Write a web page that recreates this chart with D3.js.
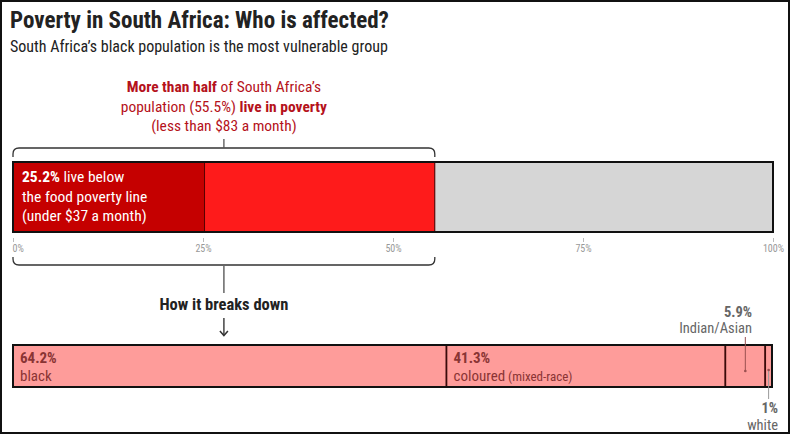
<!DOCTYPE html>
<html><head><meta charset="utf-8">
<script src="https://cdn.jsdelivr.net/npm/d3@7"></script>
<style>
html,body{margin:0;padding:0;background:#fff;}
svg{display:block;}
text{font-family:"Liberation Sans Narrow","Roboto Condensed","DejaVu Sans Condensed",sans-serif;}
</style></head>
<body>
<svg id="chart" width="792" height="435"></svg>
<script>
// ---- data ----
const title = "Poverty in South Africa: Who is affected?";
const subtitle = "South Africa\u2019s black population is the most vulnerable group";
const topCategories = ["Food poverty", "Poverty", "Not in poverty"];
const topValues = [25.2, 30.3, 44.5];
const tickValues = [0, 25, 50, 75, 100];
const tickLabels = ["0%", "25%", "50%", "75%", "100%"];
const groups = ["black", "coloured", "Indian/Asian", "white"];
const groupValues = [64.2, 41.3, 5.9, 1.0];
const groupLabels = ["64.2%", "41.3%", "5.9%", "1%"];

const svg = d3.select("#chart");

// frame
svg.append("rect").attr("x", 1).attr("y", 1).attr("width", 788).attr("height", 432)
  .attr("fill", "#fff").attr("stroke", "#111").attr("stroke-width", 2);

svg.append("text").attr("x", 10).attr("y", 28).text(title)
  .attr("font-size", 23).attr("font-weight", "bold").attr("fill", "#222");
svg.append("text").attr("x", 10).attr("y", 52).text(subtitle)
  .attr("font-size", 16).attr("fill", "#222");

// scales
const x = d3.scaleLinear().domain([0, 100]).range([13, 773]);
const barTop = 162, barH = 70;

// stacked top bar
let acc = 0;
const topStack = topValues.map((v, i) => { const s = {cat: topCategories[i], x0: acc, x1: acc + v}; acc += v; return s; });
const topColors = ["#c50000", "#fe1b1b", "#d6d6d6"];
svg.append("g").selectAll("rect").data(topStack).join("rect")
  .attr("x", d => x(d.x0)).attr("y", barTop)
  .attr("width", d => x(d.x1) - x(d.x0)).attr("height", barH)
  .attr("fill", (d, i) => topColors[i])
  .attr("stroke", "#5a0000").attr("stroke-width", 1);
svg.append("rect").attr("x", x(0)).attr("y", barTop).attr("width", x(100) - x(0)).attr("height", barH)
  .attr("fill", "none").attr("stroke", "#111").attr("stroke-width", 2);

// text inside
const inner = svg.append("text").attr("x", 22).attr("y", 182).attr("fill", "#fff").attr("font-size", 15.5);
const l1 = inner.append("tspan").attr("x", 22);
l1.append("tspan").attr("font-weight", "bold").text(topValues[0] + "%");
l1.append("tspan").text(" live below");
inner.append("tspan").attr("x", 22).attr("dy", 19.5).text("the food poverty line");
inner.append("tspan").attr("x", 22).attr("dy", 19.5).text("(under $37 a month)");

// axis
const axis = d3.axisBottom(x).tickValues(tickValues).tickFormat((d, i) => tickLabels[i]).tickSize(4).tickPadding(3);
const ag = svg.append("g").attr("transform", `translate(0,${barTop + barH + 6})`).call(axis);
ag.select(".domain").remove();
ag.selectAll(".tick line").attr("stroke", "#bbb");
ag.selectAll(".tick text").attr("fill", "#999").attr("font-size", 10)
  .attr("font-family", "Roboto, sans-serif")
  .attr("text-anchor", (d, i) => i === 0 ? "start" : "middle")
  .attr("dx", (d, i) => i === 0 ? -1 : 0);

// brackets
const p0 = x(0), p1 = x(topValues[0] + topValues[1]), mid = (p0 + p1) / 2;
const r = 6;
svg.append("path").attr("d",
  `M${p0},157 L${p0},${148 + r} Q${p0},148 ${p0 + r},148 L${p1 - r},148 Q${p1},148 ${p1},${148 + r} L${p1},157`)
  .attr("fill", "none").attr("stroke", "#333").attr("stroke-width", 1.3);
svg.append("line").attr("x1", mid).attr("x2", mid).attr("y1", 139).attr("y2", 148)
  .attr("stroke", "#555").attr("stroke-width", 1.3);

const by = 265;
svg.append("path").attr("d",
  `M${p0},257 L${p0},${by - r} Q${p0},${by} ${p0 + r},${by} L${p1 - r},${by} Q${p1},${by} ${p1},${by - r} L${p1},257`)
  .attr("fill", "none").attr("stroke", "#333").attr("stroke-width", 1.3);
svg.append("line").attr("x1", mid).attr("x2", mid).attr("y1", by).attr("y2", 293)
  .attr("stroke", "#666").attr("stroke-width", 1.5);

// annotation top
const ann = svg.append("text").attr("text-anchor", "middle").attr("fill", "#b5121b").attr("font-size", 15.5);
const a1 = ann.append("tspan").attr("x", mid).attr("y", 92);
a1.append("tspan").attr("font-weight", "bold").text("More than half");
a1.append("tspan").text(" of South Africa\u2019s");
const a2 = ann.append("tspan").attr("x", mid).attr("y", 112);
a2.append("tspan").text("population (55.5%) ");
a2.append("tspan").attr("font-weight", "bold").text("live in poverty");
ann.append("tspan").attr("x", mid).attr("y", 131).text("(less than $83 a month)");

svg.append("text").attr("x", mid).attr("y", 310).attr("text-anchor", "middle")
  .attr("font-size", 16.5).attr("font-weight", "bold").attr("fill", "#222").text("How it breaks down");

// arrow
svg.append("line").attr("x1", mid).attr("x2", mid).attr("y1", 318).attr("y2", 335)
  .attr("stroke", "#444").attr("stroke-width", 1.5);
svg.append("path").attr("d", `M${mid - 4},331 L${mid},335.5 L${mid + 4},331`)
  .attr("fill", "none").attr("stroke", "#333").attr("stroke-width", 1.5);

// breakdown bar
const total = d3.sum(groupValues);
const xb = d3.scaleLinear().domain([0, total]).range([13, 772]);
let acc2 = 0;
const gStack = groupValues.map((v, i) => { const s = {g: groups[i], v, lab: groupLabels[i], x0: acc2, x1: acc2 + v}; acc2 += v; return s; });
const bTop = 345, bH = 42;
svg.append("g").selectAll("rect").data(gStack).join("rect")
  .attr("x", d => xb(d.x0)).attr("y", bTop)
  .attr("width", d => xb(d.x1) - xb(d.x0)).attr("height", bH)
  .attr("fill", "#fe9c9a").attr("stroke", "#3a0a0a").attr("stroke-width", 1.6);
svg.append("rect").attr("x", xb(0)).attr("y", bTop).attr("width", xb(total) - xb(0)).attr("height", bH)
  .attr("fill", "none").attr("stroke", "#111").attr("stroke-width", 2);

const labCol = "#8a3434";
[0, 1].forEach(i => {
  const d = gStack[i];
  const t = svg.append("text").attr("fill", labCol).attr("font-size", 15);
  t.append("tspan").attr("x", xb(d.x0) + 7).attr("y", 363).attr("font-weight", "bold").text(d.lab);
  t.append("tspan").attr("x", xb(d.x0) + 7).attr("y", 381).text(d.g);
  if (i === 1) t.append("tspan").attr("font-size", 13).text(" (mixed-race)");
});

// Indian/Asian leader
const dI = gStack[2], cI = (xb(dI.x0) + xb(dI.x1)) / 2;
svg.append("line").attr("x1", cI).attr("x2", cI).attr("y1", 337).attr("y2", 371)
  .attr("stroke", "#9a5050").attr("stroke-width", 1);
svg.append("circle").attr("cx", cI).attr("cy", 371).attr("r", 1.3).attr("fill", "#9a5050");
svg.append("text").attr("text-anchor", "end").attr("fill", "#666").attr("font-size", 14.5)
  .attr("x", 752).attr("y", 317).attr("font-weight", "bold").text(dI.lab);
svg.append("text").attr("text-anchor", "end").attr("fill", "#666").attr("font-size", 14.5)
  .attr("x", 752).attr("y", 333).text(dI.g);

// white leader
const dW = gStack[3], cW = (xb(dW.x0) + xb(dW.x1)) / 2;
svg.append("line").attr("x1", cW).attr("x2", cW).attr("y1", 370).attr("y2", 399)
  .attr("stroke", "#999").attr("stroke-width", 1);
svg.append("circle").attr("cx", cW).attr("cy", 370).attr("r", 1.3).attr("fill", "#9a5050");
svg.append("text").attr("text-anchor", "end").attr("fill", "#666").attr("font-size", 14.5)
  .attr("x", 778).attr("y", 413).attr("font-weight", "bold").text(dW.lab);
svg.append("text").attr("text-anchor", "end").attr("fill", "#666").attr("font-size", 14.5)
  .attr("x", 778).attr("y", 429.5).text(dW.g);
</script>
</body></html>
